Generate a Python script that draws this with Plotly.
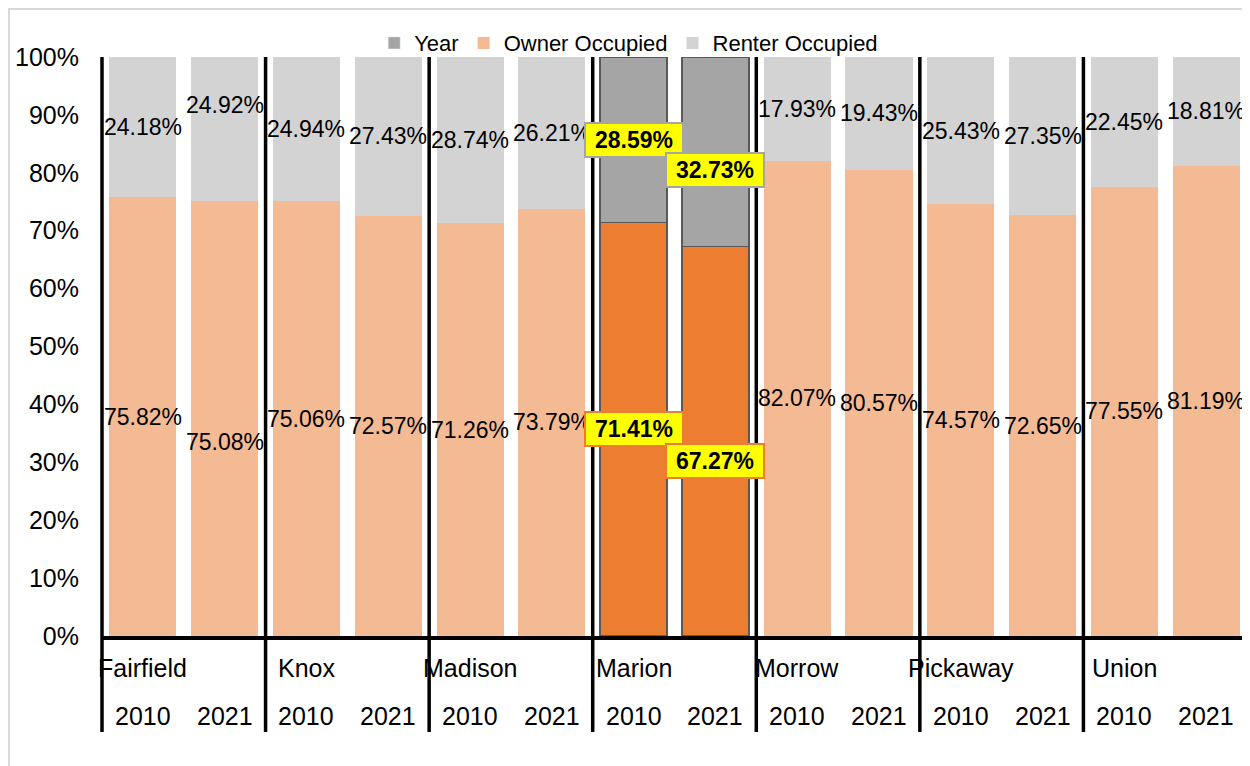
import plotly.graph_objects as go

counties = ["Fairfield", "Knox", "Madison", "Marion", "Morrow", "Pickaway", "Union"]
years = ["2010", "2021"]
owner = [75.82, 75.08, 75.06, 72.57, 71.26, 73.79, 71.41, 67.27, 82.07, 80.57, 74.57, 72.65, 77.55, 81.19]
renter = [24.18, 24.92, 24.94, 27.43, 28.74, 26.21, 28.59, 32.73, 17.93, 19.43, 25.43, 27.35, 22.45, 18.81]
highlight = "Marion"

# label nudges (style only, in percentage points)
owner_shift = [0, -4.0, 0, 0, 0, 0, 0, -3.4, 0, 0, 0, 0, 0, 0]
renter_shift = [0, 4.2, 0, 0, 0, 0, 0, -3.1, 0, 0, 0, 0, 0, 0]

OWN_L, REN_L = "#F4BA94", "#D3D3D3"
OWN_H, REN_H = "#ED7D31", "#A5A5A5"
FONT = "Liberation Sans, Arial, sans-serif"

n = len(counties) * len(years)
xs = list(range(n))
bar_county = [c for c in counties for _ in years]
bar_year = [y for _ in counties for y in years]
is_h = [c == highlight for c in bar_county]

fig = go.Figure()
fig.add_trace(go.Bar(x=[None], y=[None], name="Year", marker_color=REN_H, showlegend=True))
fig.add_trace(go.Bar(
    x=xs, y=[v / 100 for v in owner], name="Owner Occupied",
    marker=dict(color=[OWN_H if h else OWN_L for h in is_h],
                line=dict(color=["#595959" if h else "rgba(0,0,0,0)" for h in is_h],
                          width=[1.5 if h else 0 for h in is_h])),
    width=0.82,
))
fig.add_trace(go.Bar(
    x=xs, y=[v / 100 for v in renter], name="Renter Occupied",
    marker=dict(color=[REN_H if h else REN_L for h in is_h],
                line=dict(color=["#595959" if h else "rgba(0,0,0,0)" for h in is_h],
                          width=[1.5 if h else 0 for h in is_h])),
    width=0.82,
))

ann = []
for i in xs:
    o, r = owner[i], renter[i]
    yo = (o / 2 + owner_shift[i]) / 100
    yr = (o + r / 2 + renter_shift[i]) / 100
    for val, yy, bc in ((o, yo, OWN_H), (r, yr, "#A5A5A5")):
        if is_h[i]:
            ann.append(dict(x=i, y=yy, xref="x", yref="y", text="<b>%.2f%%</b>" % val,
                            showarrow=False, font=dict(size=23, color="black", family=FONT),
                            bgcolor="#FFFF00", bordercolor=bc, borderwidth=2, borderpad=2,
                            width=92, height=28))
        else:
            ann.append(dict(x=i, y=yy, xref="x", yref="y", text="%.2f%%" % val,
                            showarrow=False, font=dict(size=23, color="black", family=FONT)))

# axis category labels
for i in xs:
    ann.append(dict(x=i, y=-0.138, xref="x", yref="paper", yanchor="middle", text=bar_year[i],
                    showarrow=False, font=dict(size=25, color="black", family=FONT)))
for k, c in enumerate(counties):
    ann.append(dict(x=k * len(years), y=-0.055, xref="x", yref="paper", yanchor="middle", text=c,
                    showarrow=False, font=dict(size=25, color="black", family=FONT)))

shapes = []
for k in range(len(counties) + 1):
    px = k * len(years) / n
    shapes.append(dict(type="line", xref="paper", yref="paper", x0=px, x1=px, y0=-0.166, y1=1.0,
                       line=dict(color="black", width=3.5)))
# outer chart border
shapes.append(dict(type="rect", xref="paper", yref="paper", x0=-0.0812, x1=1.2, y0=-0.5, y1=1.0829,
                   line=dict(color="#D9D9D9", width=2), layer="below"))

fig.update_layout(
    width=1242, height=758,
    margin=dict(l=94, r=3, t=49, b=130),
    barmode="stack", bargap=0.18,
    plot_bgcolor="white", paper_bgcolor="white",
    font=dict(family=FONT, color="black"),
    legend=dict(orientation="h", x=0.46, xanchor="center", y=1.024, yanchor="middle",
                font=dict(size=22, family=FONT), itemwidth=30, traceorder="normal",
                bgcolor="rgba(0,0,0,0)"),
    annotations=ann, shapes=shapes,
    xaxis=dict(range=[-0.5, n - 0.5], showticklabels=False, ticks="", showgrid=False,
               showline=True, linecolor="black", linewidth=4, zeroline=False, fixedrange=True),
    yaxis=dict(range=[0, 1], tickvals=[i / 10 for i in range(11)], tickformat=".0%",
               tickfont=dict(size=25, family=FONT), ticks="outside", ticklen=17,
               tickcolor="rgba(0,0,0,0)", showgrid=False, zeroline=False, showline=False),
)

fig.write_html("out.html")
